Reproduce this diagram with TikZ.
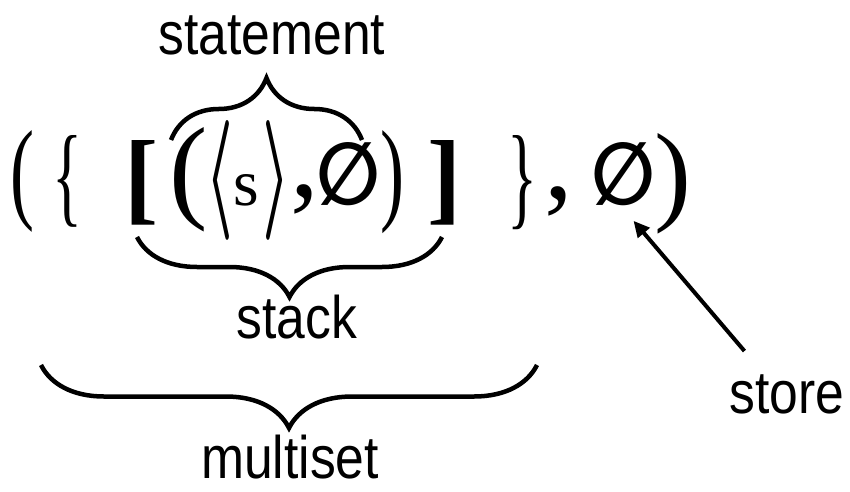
\documentclass[tikz,border=0pt]{standalone}
\usepackage{fontspec}
\setmainfont{Liberation Serif}
\setsansfont{Liberation Sans}
\newfontfamily\setfont{DejaVu Sans}
\usepackage{graphicx}
\usetikzlibrary{decorations.pathreplacing, arrows.meta}
\newcommand{\fitglyph}[2]{\resizebox{!}{#1pt}{#2}}
\newcommand{\fitbox}[3]{\resizebox{#1pt}{#2pt}{#3}}
\newcommand{\labeltext}[1]{\scalebox{0.86}[1]{#1}}
\tikzset{
x=1pt, y=1pt, % one unit per pixel of the picture
glyph/.style={inner sep=0pt, anchor=center}, % one sign of the formula
comma/.style={inner sep=0pt, anchor=base, font=\fontsize{115}{115}\selectfont}, % the two commas
tag/.style={inner sep=0pt, anchor=base, font=\sffamily\fontsize{60}{72}\selectfont}, % the words under and over the braces
curly/.style={decorate, decoration={brace, amplitude=#1}, line width=4.5pt}, % the drawn braces
pointer/.style={-{Triangle[length=16pt, width=15pt]}, line width=4pt}, % the arrow to the store
}
\begin{document}
\begin{tikzpicture}
\useasboundingbox (0,0) rectangle (850,491);
% the formula, sign by sign
\node[glyph] (lpar) at (22.5,310) {\fitbox{24}{78}{(}};
\node[glyph] (lset) at (67.5,309.5) {\fitbox{30}{77}{\{}};
\node[glyph] (lstack) at (141.5,308.5) {\fitglyph{71}{\bfseries [}};
\node[glyph] (lstmt) at (188.5,311) {\fitglyph{80}{(}};
\node[glyph] (lang) at (220,311) {\fitbox{28}{90}{\boldmath$\langle$}};
\node[glyph] (var) at (246,301) {\fitglyph{31}{s}};
\node[glyph] (rang) at (277,311) {\fitbox{28}{90}{\boldmath$\rangle$}};
\node[comma] (comma1) at (304.5,295) {,};
\node[glyph] (emptya) at (349,317) {\fitbox{64}{62}{\setfont\bfseries ∅}};
\node[glyph] (rstmt) at (392.5,308.5) {\fitbox{24}{79}{)}};
\node[glyph] (rstack) at (445,308.5) {\fitglyph{71}{\bfseries ]}};
\node[glyph] (rset) at (522.5,308.5) {\fitbox{30}{79}{\}}};
\node[comma] (comma2) at (558.5,293) {,};
\node[glyph] (emptyb) at (623.5,317) {\fitbox{64}{62}{\setfont\bfseries ∅}};
\node[glyph] (rpar) at (672.5,307.5) {\fitglyph{77}{)}};
% the braces and their words
\draw[curly=62] (171,351) -- (362,351);
\node[tag] (statement) at (272,436) {\labeltext{statement}};
\draw[curly=60] (442,254) -- (137,254);
\node[tag] (stack) at (297,153) {\labeltext{stack}};
\draw[curly=63] (537,126) -- (41,126);
\node[tag] (multiset) at (290,13) {\labeltext{multiset}};
\node[tag] (store) at (787,78) {\labeltext{store}};
\draw[pointer] ([shift={(15,23)}]store.north west) -- ([shift={(10,-15)}]emptyb.south);
\end{tikzpicture}
\end{document}
